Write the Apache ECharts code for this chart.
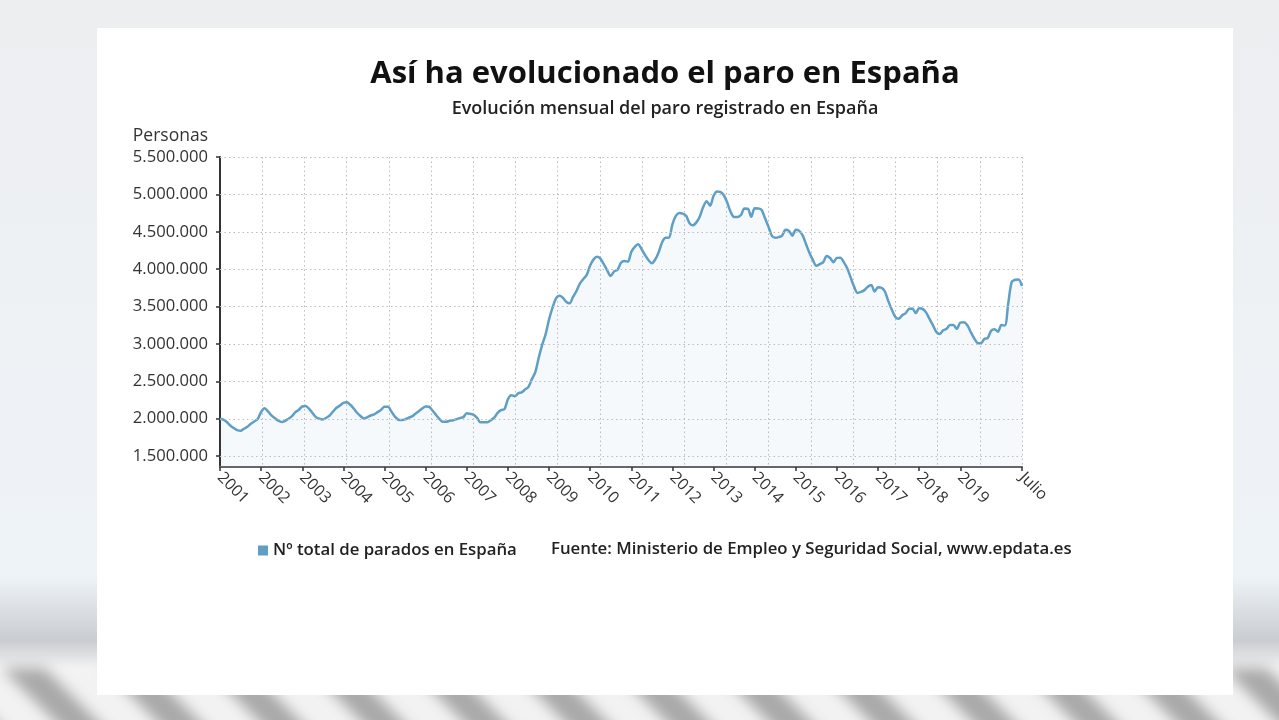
<!DOCTYPE html>
<html><head><meta charset="utf-8">
<script src="https://cdn.jsdelivr.net/npm/echarts@6/dist/echarts.min.js"></script>
<style>
html,body{margin:0;padding:0;width:1279px;height:720px;overflow:hidden;}
body{background:linear-gradient(180deg,#eceef0 0%,#eef1f4 40%,#eef3f8 80%,#c9cdd2 89%,#f3f3f3 93%,#f3f3f3 100%);position:relative;font-family:'Open Sans',sans-serif;}
#stripes{position:absolute;left:-20px;top:668px;width:1320px;height:80px;filter:blur(7px);background:repeating-linear-gradient(45deg,#a9a9a9 0 30px,#f2f2f2 30px 72px);}
#panel{position:absolute;left:97px;top:28px;width:1136px;height:667px;background:#fff;}
#chart{position:absolute;left:97px;top:28px;width:1136px;height:667px;}
</style></head><body>
<div id="stripes"></div><div id="panel"></div><div id="chart"></div>
<script>
// Paro registrado (miles de personas), enero 2001 - julio 2020
const paro2001 = [2000,1987,1956,1910,1876,1849,1840,1867,1893,1933,1964,1996];
const paro2002 = [2090,2140,2100,2044,2009,1973,1956,1973,2000,2036,2089,2120];
const paro2003 = [2164,2169,2133,2076,2022,2000,1991,2013,2044,2098,2147,2178];
const paro2004 = [2213,2222,2187,2138,2080,2036,2004,2022,2044,2058,2089,2120];
const paro2005 = [2160,2160,2098,2031,1987,1982,1991,2013,2031,2067,2102,2138];
const paro2006 = [2164,2160,2111,2053,2000,1960,1960,1973,1978,1996,2009,2022];
const paro2007 = [2074,2065,2052,2012,1952,1952,1954,1981,2015,2078,2115,2129];
const paro2008 = [2261,2315,2301,2339,2354,2390,2427,2530,2625,2818,2989,3129];
const paro2009 = [3328,3482,3605,3644,3620,3565,3544,3629,3709,3808,3869,3924];
const paro2010 = [4048,4131,4167,4142,4066,3982,3909,3970,3993,4086,4110,4100];
const paro2011 = [4231,4299,4334,4269,4190,4122,4080,4131,4227,4361,4420,4422];
const paro2012 = [4600,4712,4751,4744,4714,4615,4587,4626,4705,4834,4908,4849];
const paro2013 = [4981,5040,5035,4989,4891,4764,4699,4699,4724,4811,4809,4701];
const paro2014 = [4814,4812,4796,4684,4572,4450,4420,4428,4448,4526,4512,4448];
const paro2015 = [4526,4512,4452,4333,4215,4120,4046,4068,4094,4176,4149,4094];
const paro2016 = [4151,4153,4095,4011,3891,3767,3683,3697,3720,3765,3790,3703];
const paro2017 = [3760,3751,3702,3573,3461,3363,3336,3382,3410,3467,3474,3413];
const paro2018 = [3477,3470,3423,3336,3252,3162,3135,3182,3203,3254,3253,3202];
const paro2019 = [3286,3289,3255,3164,3079,3016,3011,3066,3080,3178,3198,3164];
const paro2020 = [3254,3246,3548,3831,3858,3863,3773];

const years = [2001,2002,2003,2004,2005,2006,2007,2008,2009,2010,2011,2012,2013,2014,2015,2016,2017,2018,2019,2020];
const yearlyValues = [paro2001,paro2002,paro2003,paro2004,paro2005,paro2006,paro2007,paro2008,paro2009,paro2010,paro2011,paro2012,paro2013,paro2014,paro2015,paro2016,paro2017,paro2018,paro2019,paro2020];
const xTickLabels = ['2001','2002','2003','2004','2005','2006','2007','2008','2009','2010','2011','2012','2013','2014','2015','2016','2017','2018','2019','Julio'];
const yTickValues = [1500000,2000000,2500000,3000000,3500000,4000000,4500000,5000000,5500000];

const seriesName = 'Nº total de parados en España';
const titleText = 'Así ha evolucionado el paro en España';
const subtitleText = 'Evolución mensual del paro registrado en España';
const sourceText = 'Fuente: Ministerio de Empleo y Seguridad Social, www.epdata.es';

const categories = [];
const values = [];
years.forEach((y, i) => {
  yearlyValues[i].forEach((v, m) => {
    categories.push(y + '-' + String(m + 1).padStart(2, '0'));
    values.push(v * 1000);
  });
});
const lastIdx = categories.length - 1;
const showTick = (idx) => (idx % 12 === 0 && idx / 12 < xTickLabels.length - 1) || idx === lastIdx;
const fmt = (v) => String(v).replace(/\B(?=(\d{3})+(?!\d))/g, '.');
const FONT = "'Open Sans', sans-serif";

const chart = echarts.init(document.getElementById('chart'), null, {renderer: 'canvas'});
chart.setOption({
  animation: false,
  textStyle: {fontFamily: FONT},
  title: [
    {text: titleText, left: 'center', top: 26, padding: 5,
     textStyle: {fontFamily: FONT, fontSize: 31, fontWeight: 'bold', color: '#111'}},
    {text: subtitleText, left: 'center', top: 67, padding: 5,
     textStyle: {fontFamily: FONT, fontSize: 18, fontWeight: 600, color: '#222'}},
    {text: sourceText, left: 449, top: 508, padding: 5,
     textStyle: {fontFamily: FONT, fontSize: 16.8, fontWeight: 600, color: '#222'}}
  ],
  legend: {
    data: [seriesName], left: 156, top: 509, icon: 'rect', itemWidth: 10, itemHeight: 10, itemGap: 6,
    textStyle: {fontFamily: FONT, fontSize: 16.8, fontWeight: 600, color: '#222'}
  },
  grid: {left: 123, right: 211, top: 129, bottom: 228},
  xAxis: [
    {
      type: 'category', data: categories, boundaryGap: false,
      axisLine: {show: true, lineStyle: {color: '#666', width: 2}},
      axisTick: {show: true, interval: (idx) => showTick(idx), length: 4, lineStyle: {color: '#333', width: 1.5}},
      axisLabel: {
        interval: (idx) => showTick(idx), rotate: -45, margin: 8,
        fontFamily: FONT, fontSize: 16, color: '#333',
        formatter: (val, idx) => idx === lastIdx ? xTickLabels[xTickLabels.length - 1] : xTickLabels[Math.round(idx / 12)]
      },
      splitLine: {show: false}
    },
    {
      type: 'value', position: 'top', min: 0, max: xTickLabels.length - 1, interval: 1,
      axisLine: {show: false}, axisTick: {show: false}, axisLabel: {show: false},
      splitLine: {show: true, lineStyle: {type: [1.5, 3], color: '#bdbdbd', width: 1}}
    }
  ],
  yAxis: {
    type: 'value', min: 1355000, max: 5500000,
    name: 'Personas', nameLocation: 'end', nameGap: 12,
    nameTextStyle: {fontFamily: FONT, fontSize: 17.5, color: '#333', align: 'right', padding: [0, 12, 0, 0]},
    axisLine: {show: true, lineStyle: {color: '#333', width: 2}},
    axisTick: {show: true, customValues: yTickValues, length: 4, lineStyle: {color: '#333', width: 1.5}},
    axisLabel: {customValues: yTickValues, margin: 12, fontFamily: FONT, fontSize: 16.6, color: '#333', formatter: (v) => fmt(v)},
    splitLine: {show: false}
  },
  series: [
    {
      name: 'grid', type: 'line', data: values, xAxisIndex: 0, z: 1, silent: true,
      showSymbol: false, lineStyle: {opacity: 0}, itemStyle: {opacity: 0},
      markLine: {silent: true, symbol: 'none', label: {show: false}, animation: false,
        lineStyle: {type: [1.5, 3], color: '#bdbdbd', width: 1},
        data: yTickValues.map(v => ({yAxis: v}))}
    },
    {
      name: seriesName, type: 'line', data: values, xAxisIndex: 0, z: 3,
      showSymbol: false, smooth: 0.3,
      itemStyle: {color: '#5f9fc6'},
      lineStyle: {color: '#5f9fc6', width: 2.5},
      areaStyle: {color: 'rgba(95,159,198,0.09)'}
    }
  ]
});
</script>
</body></html>
